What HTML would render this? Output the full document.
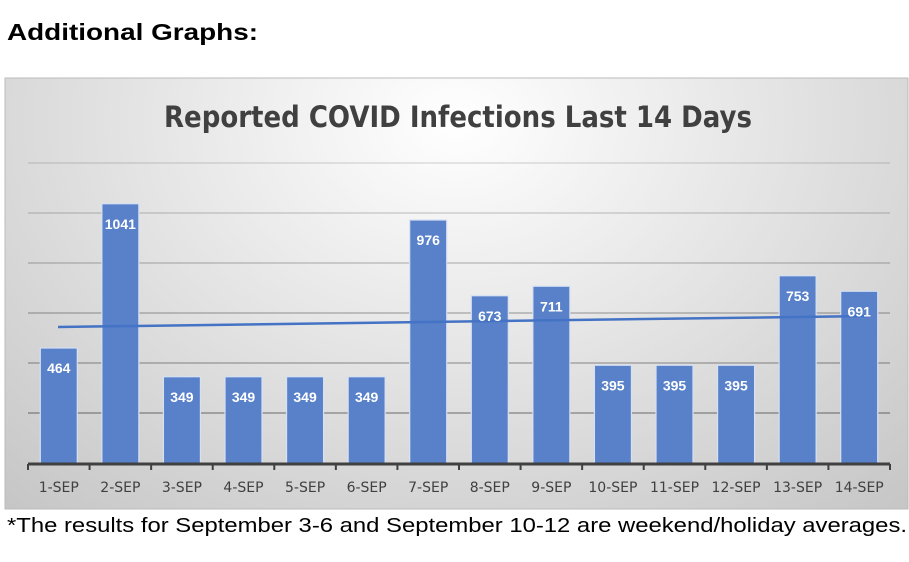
<!DOCTYPE html>
<html><head><meta charset="utf-8"><style>
body{margin:0;width:909px;height:562px;background:#fff;overflow:hidden;font-family:"Liberation Sans",sans-serif;}
</style></head><body>
<svg width="909" height="562" xmlns="http://www.w3.org/2000/svg" style="position:absolute;left:0;top:0">
<defs>
<radialGradient id="bg" cx="0.5" cy="0.1" r="0.75" gradientTransform="translate(0.5 0.1) scale(1 1.6) translate(-0.5 -0.1)">
<stop offset="0" stop-color="#ffffff"/><stop offset="1" stop-color="#c6c6c6"/>
</radialGradient>
</defs>
<text x="7" y="40" font-size="23" font-weight="bold" fill="#000" font-family="Liberation Sans, sans-serif" textLength="251" lengthAdjust="spacingAndGlyphs">Additional Graphs:</text>
<rect x="5" y="78" width="903" height="431" fill="url(#bg)" stroke="#bbb" stroke-width="1"/>
<text x="458" y="127" text-anchor="middle" font-size="29" font-weight="bold" fill="#404040" font-family="DejaVu Sans, Liberation Sans, sans-serif" textLength="588" lengthAdjust="spacingAndGlyphs">Reported COVID Infections Last 14 Days</text>
<g stroke="#000" stroke-opacity="0.28" stroke-width="1.5">
<line x1="28" x2="890" y1="163" y2="163" stroke-opacity="0.12"/>
<line x1="28" x2="890" y1="213" y2="213" stroke-opacity="0.16"/>
<line x1="28" x2="890" y1="263" y2="263" stroke-opacity="0.2"/>
<line x1="28" x2="890" y1="313" y2="313" stroke-opacity="0.25"/>
<line x1="28" x2="890" y1="363" y2="363"/>
<line x1="28" x2="890" y1="413" y2="413" stroke-opacity="0.35"/>
</g>
<g id="bars" fill="#5881c9" stroke="#d6e0f2" stroke-width="1.2"></g>
<line x1="58" y1="327" x2="870" y2="316" stroke="#4472c4" stroke-width="2.5"/>
<g id="vals" font-size="14" font-weight="bold" fill="#fff" text-anchor="middle" font-family="Liberation Sans, sans-serif"></g>
<line x1="28" x2="890" y1="464" y2="464" stroke="#404040" stroke-width="3"/>
<g id="ticks" stroke="#404040" stroke-width="2"></g>
<g id="labels" font-size="14" fill="#404040" text-anchor="middle" font-family="DejaVu Sans, Liberation Sans, sans-serif"></g>
<text x="7" y="532" font-size="20" fill="#000" font-family="Liberation Sans, sans-serif" textLength="900" lengthAdjust="spacingAndGlyphs">*The results for September 3-6 and September 10-12 are weekend/holiday averages.</text>
</svg>
<script>
var v=[464,1041,349,349,349,349,976,673,711,395,395,395,753,691];
var ns="http://www.w3.org/2000/svg",b=document.getElementById('bars'),vs=document.getElementById('vals'),t=document.getElementById('ticks'),l=document.getElementById('labels');
var step=(890-28)/14;
for(var i=0;i<14;i++){
 var cx=28+step*(i+0.5),y=464-v[i]*0.25;
 var r=document.createElementNS(ns,'rect');r.setAttribute('x',cx-18.5);r.setAttribute('y',y);r.setAttribute('width',37);r.setAttribute('height',464-y);b.appendChild(r);
 var tx=document.createElementNS(ns,'text');tx.setAttribute('x',cx);tx.setAttribute('y',y+25);tx.textContent=v[i];vs.appendChild(tx);
 var lb=document.createElementNS(ns,'text');lb.setAttribute('x',cx);lb.setAttribute('y',492);lb.textContent=(i+1)+'-SEP';l.appendChild(lb);
}
for(var i=0;i<=14;i++){var x=28+step*i;var k=document.createElementNS(ns,'line');k.setAttribute('x1',x);k.setAttribute('x2',x);k.setAttribute('y1',464);k.setAttribute('y2',470);t.appendChild(k);}
</script>
</body></html>
